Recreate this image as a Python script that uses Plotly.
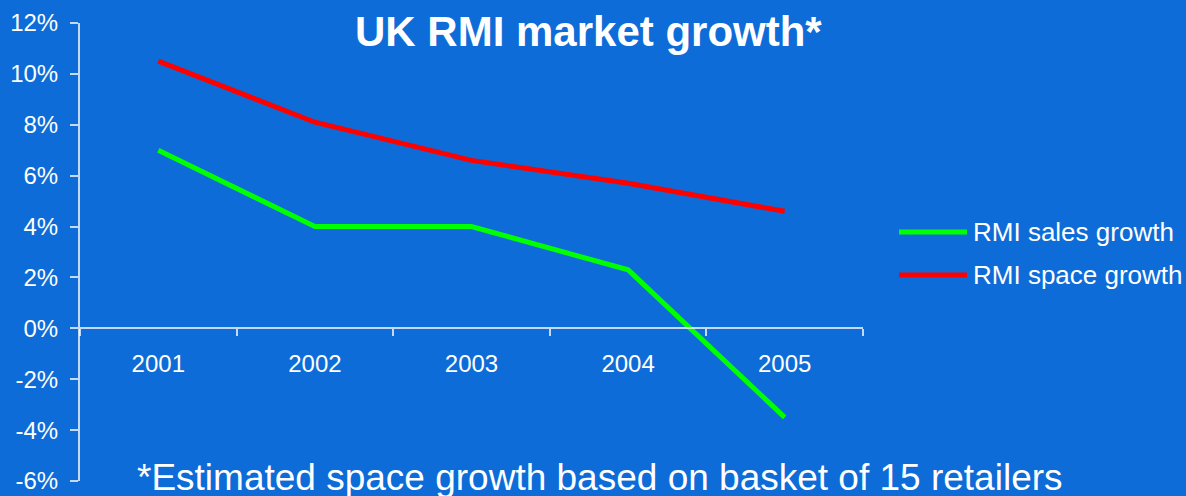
import plotly.graph_objects as go

# Chart data (percent growth per year)
years = ["2001", "2002", "2003", "2004", "2005"]
sales_growth = [7.0, 4.0, 4.0, 2.3, -3.5]
space_growth = [10.5, 8.1, 6.6, 5.7, 4.6]
y_ticks = [-6, -4, -2, 0, 2, 4, 6, 8, 10, 12]
y_tick_labels = ["-6%", "-4%", "-2%", "0%", "2%", "4%", "6%", "8%", "10%", "12%"]

series_names = ["RMI sales growth", "RMI space growth"]
series_colors = ["#00FF00", "#FF0000"]

BG = "#0D6CD8"
AXIS = "rgba(255,255,255,0.75)"
FONT = "Liberation Sans, Arial, sans-serif"

W, H = 1186, 496
L, R, T, B = 80, 323, 23, 15
PW, PH = W - L - R, H - T - B


def px_x(x):
    return (x - L) / PW


def px_y(y):
    return (H - B - y) / PH


fig = go.Figure()
for name, vals, col in zip(series_names, [sales_growth, space_growth], series_colors):
    fig.add_trace(go.Scatter(
        x=years, y=vals, mode="lines", name=name,
        line=dict(color=col, width=5), hoverinfo="skip", showlegend=False,
    ))

# Legend drawn as line samples plus labels on the right
legend_rows = [232, 275]
for name, col, ry in zip(series_names, series_colors, legend_rows):
    fig.add_shape(type="line", xref="paper", yref="paper",
                  x0=px_x(899), x1=px_x(967), y0=px_y(ry), y1=px_y(ry),
                  line=dict(color=col, width=5))
    fig.add_annotation(xref="paper", yref="paper", x=px_x(971), y=px_y(ry),
                       xanchor="left", yanchor="middle", showarrow=False,
                       text=name, font=dict(family=FONT, size=26, color="white"))

# Title
fig.add_annotation(xref="paper", yref="paper", x=px_x(588), y=px_y(31),
                   xanchor="center", yanchor="middle", showarrow=False,
                   text="<b>UK RMI market growth*</b>",
                   font=dict(family=FONT, size=42, color="white"))

# Footnote
fig.add_annotation(xref="paper", yref="paper", x=px_x(600), y=px_y(477),
                   xanchor="center", yanchor="middle", showarrow=False,
                   text="*Estimated space growth based on basket of 15 retailers",
                   font=dict(family=FONT, size=37, color="white"))

ymin, ymax = -6, 12
fig.update_layout(
    width=W, height=H,
    margin=dict(l=L, r=R, t=T, b=B, pad=0, autoexpand=False),
    paper_bgcolor=BG, plot_bgcolor=BG,
    font=dict(family=FONT, size=24, color="white"),
    showlegend=False,
    xaxis=dict(
        type="category", range=[-0.5, 4.5], automargin=False,
        anchor="free", position=(0 - ymin) / (ymax - ymin),
        showline=True, linecolor=AXIS, linewidth=2,
        ticks="outside", tickson="boundaries", ticklen=7, tickcolor=AXIS, tickwidth=2,
        showgrid=False, zeroline=False,
        tickfont=dict(family=FONT, size=24, color="white"),
        ticklabelstandoff=14,
    ),
    yaxis=dict(
        range=[ymin, ymax], tickvals=y_ticks, ticktext=y_tick_labels,
        automargin=False,
        showline=True, linecolor=AXIS, linewidth=2,
        ticks="outside", ticklen=8, tickcolor=AXIS, tickwidth=2,
        showgrid=False, zeroline=False,
        tickfont=dict(family=FONT, size=24, color="white"),
        ticklabelstandoff=7,
    ),
)

fig.write_html("out.html")
